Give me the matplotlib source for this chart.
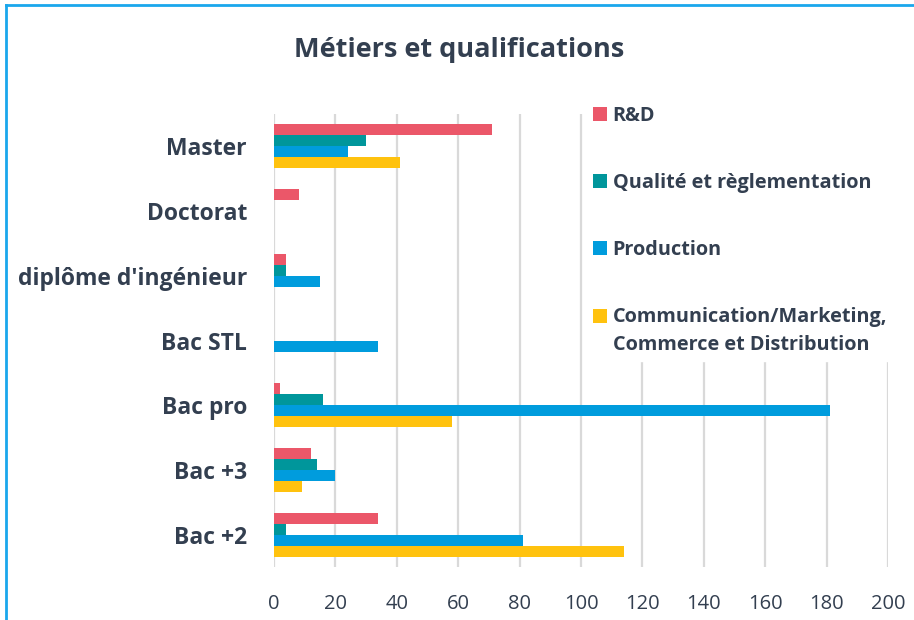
import matplotlib.pyplot as plt
import numpy as np
from matplotlib.lines import Line2D
from matplotlib.patches import Rectangle
from matplotlib.legend_handler import HandlerPatch, update_from_first_child

# categories top to bottom
levels = ["Master", "Doctorat", "diplôme d'ingénieur", "Bac STL", "Bac pro", "Bac +3", "Bac +2"]

series_names = ["R&D", "Qualité et règlementation", "Production",
                "Communication/Marketing,\nCommerce et Distribution"]
rd =         [71, 8, 4, 0, 2, 12, 34]
qualite =    [30, 0, 4, 0, 16, 14, 4]
production = [24, 0, 15, 34, 181, 20, 81]
comm =       [41, 0, 0, 0, 58, 9, 114]

colors = ["#EB5769", "#00969B", "#009CDD", "#FFC20E"]
txt = "#333F50"

plt.rcParams['font.family'] = ['Open Sans', 'DejaVu Sans']

fig = plt.figure(figsize=(9.14, 6.2), dpi=100)
ax = fig.add_axes([0.2998, 0.0848, 0.6718, 0.732])

y = np.arange(len(levels))
h = 0.17
bars = []
for i, (vals, name, c) in enumerate(zip([rd, qualite, production, comm], series_names, colors)):
    bars.append(ax.barh(y + (i - 1.5) * h, vals, height=h, color=c, label=name, zorder=3))

ax.set_ylim(len(levels) - 0.5, -0.5)
ax.set_xlim(0, 200)
ax.set_xticks(range(0, 201, 20))
ax.set_yticks(y)
ax.set_yticklabels(levels, fontsize=16.5, fontweight='bold', color=txt)
ax.tick_params(axis='y', length=0, pad=19.5)
ax.tick_params(axis='x', length=0, pad=19, labelsize=14.5, labelcolor=txt)
for s in ax.spines.values():
    s.set_visible(False)
ax.grid(axis='x', color='#D9D9D9', linewidth=1.6, zorder=0)


# square of the two-line entry sits next to its first line
def top_square(legend, orig_handle, xdescent, ydescent, width, height, fontsize):
    return Rectangle((-xdescent, -ydescent + 10.8), width, height)


leg = ax.legend(loc='upper left', bbox_to_anchor=(0.4933, 1.052), frameon=True,
                facecolor='white', edgecolor='white', framealpha=1,
                handlelength=0.7, handleheight=0.7, handletextpad=0.3,
                labelspacing=2.37, borderpad=0.3,
                handler_map={bars[3]: HandlerPatch(patch_func=top_square,
                                                   update_func=update_from_first_child)},
                prop={'size': 14.3, 'weight': 'bold'})
for t in leg.get_texts():
    t.set_color(txt)
leg.get_texts()[3].set_linespacing(1.5)
leg.set_zorder(5)

fig.text(0.502, 0.92, "Métiers et qualifications", ha='center', va='center',
         fontsize=19.5, fontweight='bold', color=txt)

# blue frame on top and left
fig.add_artist(Line2D([0.0066, 0.0066], [0, 0.992], color='#1AA7EC', linewidth=2))
fig.add_artist(Line2D([0.0066, 1], [0.992, 0.992], color='#1AA7EC', linewidth=2))

fig.savefig("out.png", dpi=100)
